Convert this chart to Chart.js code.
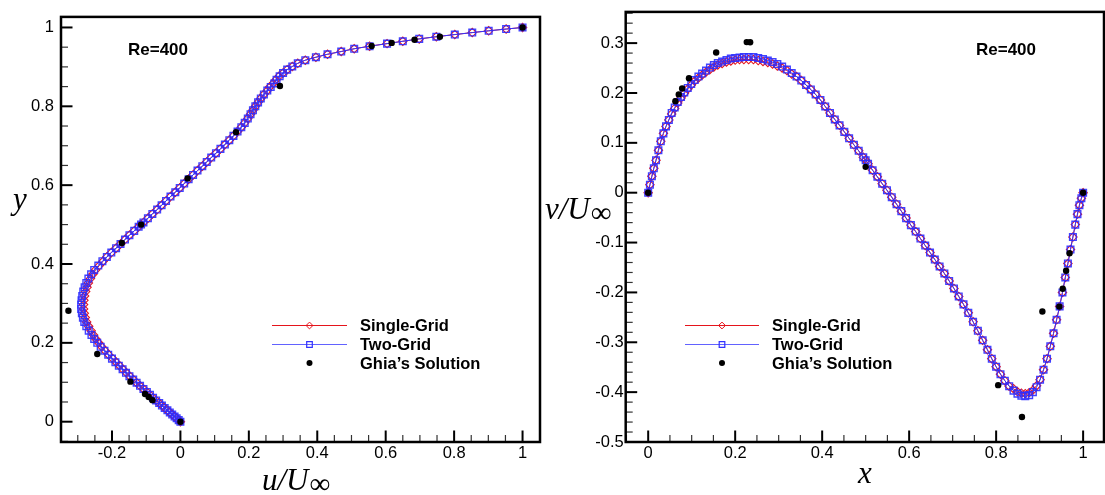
<!DOCTYPE html>
<html>
<head>
<meta charset="utf-8">
<script src="https://cdn.jsdelivr.net/npm/chart.js@4.4.1/dist/chart.umd.min.js"></script>
<style>
  body { margin: 0; background: #fff; }
  .panel { position: absolute; top: 0; height: 495px; }
</style>
</head>
<body>
<div class="panel" style="left:0;width:552px"><canvas id="uchart" width="552" height="495"></canvas></div>
<div class="panel" style="left:530px;width:575px"><canvas id="vchart" width="575" height="495"></canvas></div>
<script>
// grid positions (y for the vertical centerline, x for the horizontal one)
const gridPos = [
  0, 0.004, 0.0085, 0.013, 0.018, 0.0235, 0.029, 0.035, 0.041, 0.0475,
  0.054, 0.061, 0.068, 0.0755, 0.083, 0.091, 0.099, 0.107, 0.1155, 0.124,
  0.133, 0.142, 0.151, 0.16, 0.17, 0.18, 0.19, 0.2, 0.21, 0.22,
  0.231, 0.242, 0.253, 0.264, 0.275, 0.286, 0.297, 0.308, 0.319, 0.33,
  0.341, 0.352, 0.363, 0.374, 0.385, 0.396, 0.407, 0.418, 0.429, 0.44,
  0.451, 0.462, 0.473, 0.484, 0.4945, 0.5, 0.5055, 0.516, 0.527, 0.538,
  0.549, 0.56, 0.571, 0.582, 0.593, 0.604, 0.615, 0.626, 0.637, 0.648,
  0.659, 0.67, 0.681, 0.692, 0.703, 0.714, 0.725, 0.736, 0.747, 0.758,
  0.769, 0.78, 0.79, 0.8, 0.81, 0.82, 0.83, 0.84, 0.849, 0.858,
  0.867, 0.876, 0.8845, 0.893, 0.901, 0.909, 0.917, 0.9245, 0.932, 0.939,
  0.946, 0.9525, 0.959, 0.965, 0.971, 0.9765, 0.982, 0.987, 0.9915, 0.996,
  1
];

// u velocity on the vertical centerline
const uSingle = [
  0, -0.005, -0.011, -0.017, -0.024, -0.031, -0.038, -0.046, -0.054, -0.062,
  -0.071, -0.080, -0.089, -0.098, -0.108, -0.118, -0.128, -0.138, -0.148, -0.158,
  -0.168, -0.178, -0.188, -0.198, -0.210, -0.220, -0.230, -0.239, -0.247, -0.254,
  -0.261, -0.268, -0.274, -0.278, -0.281, -0.283, -0.283, -0.282, -0.280, -0.277,
  -0.273, -0.269, -0.263, -0.256, -0.248, -0.237, -0.226, -0.215, -0.202, -0.188,
  -0.175, -0.162, -0.149, -0.135, -0.122, -0.115, -0.108, -0.095, -0.082, -0.068,
  -0.055, -0.042, -0.029, -0.015, -0.002, 0.011, 0.024, 0.037, 0.050, 0.064,
  0.077, 0.090, 0.104, 0.117, 0.130, 0.143, 0.155, 0.167, 0.178, 0.188,
  0.197, 0.205, 0.212, 0.219, 0.227, 0.235, 0.244, 0.254, 0.261, 0.271,
  0.279, 0.288, 0.300, 0.312, 0.327, 0.343, 0.365, 0.396, 0.430, 0.470,
  0.508, 0.553, 0.604, 0.650, 0.698, 0.748, 0.802, 0.853, 0.901, 0.952,
  1.0
];
const uTwo = [
  0, -0.005, -0.011, -0.017, -0.024, -0.031, -0.038, -0.046, -0.054, -0.062,
  -0.071, -0.080, -0.089, -0.098, -0.108, -0.118, -0.128, -0.138, -0.149, -0.159,
  -0.169, -0.180, -0.190, -0.200, -0.211, -0.222, -0.233, -0.243, -0.252, -0.260,
  -0.268, -0.275, -0.281, -0.285, -0.288, -0.290, -0.290, -0.289, -0.287, -0.284,
  -0.280, -0.275, -0.269, -0.261, -0.252, -0.240, -0.228, -0.215, -0.202, -0.188,
  -0.175, -0.162, -0.149, -0.135, -0.122, -0.115, -0.108, -0.095, -0.082, -0.068,
  -0.055, -0.042, -0.029, -0.015, -0.002, 0.011, 0.024, 0.037, 0.050, 0.064,
  0.077, 0.090, 0.104, 0.117, 0.130, 0.143, 0.155, 0.167, 0.178, 0.188,
  0.197, 0.205, 0.212, 0.219, 0.227, 0.235, 0.244, 0.254, 0.264, 0.274,
  0.281, 0.290, 0.300, 0.312, 0.327, 0.343, 0.365, 0.396, 0.430, 0.470,
  0.508, 0.553, 0.604, 0.650, 0.698, 0.748, 0.802, 0.853, 0.901, 0.952,
  1.0
];

// v velocity on the horizontal centerline
const vSingle = [
  0, 0.016, 0.033, 0.049, 0.065, 0.085, 0.103, 0.119, 0.133, 0.146,
  0.158, 0.169, 0.180, 0.190, 0.199, 0.208, 0.216, 0.224, 0.230, 0.236,
  0.242, 0.247, 0.252, 0.256, 0.259, 0.262, 0.264, 0.266, 0.267, 0.267,
  0.267, 0.267, 0.265, 0.263, 0.261, 0.258, 0.254, 0.250, 0.245, 0.238,
  0.233, 0.225, 0.216, 0.207, 0.197, 0.186, 0.173, 0.160, 0.147, 0.135,
  0.122, 0.109, 0.096, 0.084, 0.071, 0.065, 0.058, 0.045, 0.032, 0.018,
  0.005, -0.009, -0.023, -0.037, -0.051, -0.065, -0.078, -0.092, -0.106, -0.120,
  -0.134, -0.148, -0.162, -0.177, -0.192, -0.208, -0.224, -0.241, -0.259, -0.277,
  -0.296, -0.315, -0.333, -0.349, -0.364, -0.377, -0.388, -0.393, -0.399, -0.402,
  -0.403, -0.401, -0.396, -0.387, -0.375, -0.355, -0.333, -0.308, -0.282, -0.255,
  -0.228, -0.200, -0.170, -0.142, -0.114, -0.089, -0.064, -0.043, -0.025, -0.011,
  0
];
const vTwo = [
  0, 0.016, 0.033, 0.049, 0.065, 0.085, 0.103, 0.119, 0.133, 0.146,
  0.160, 0.171, 0.182, 0.192, 0.201, 0.210, 0.218, 0.226, 0.233, 0.239,
  0.245, 0.251, 0.256, 0.260, 0.263, 0.266, 0.269, 0.270, 0.271, 0.272,
  0.272, 0.272, 0.270, 0.268, 0.265, 0.262, 0.258, 0.253, 0.247, 0.240,
  0.233, 0.225, 0.216, 0.207, 0.197, 0.186, 0.173, 0.160, 0.147, 0.135,
  0.122, 0.109, 0.096, 0.084, 0.071, 0.065, 0.058, 0.045, 0.032, 0.018,
  0.005, -0.009, -0.023, -0.037, -0.051, -0.065, -0.078, -0.092, -0.106, -0.120,
  -0.134, -0.148, -0.162, -0.177, -0.192, -0.208, -0.224, -0.241, -0.259, -0.277,
  -0.296, -0.315, -0.333, -0.349, -0.364, -0.377, -0.388, -0.397, -0.403, -0.407,
  -0.408, -0.406, -0.400, -0.390, -0.375, -0.355, -0.333, -0.308, -0.282, -0.255,
  -0.228, -0.200, -0.170, -0.142, -0.114, -0.089, -0.064, -0.043, -0.025, -0.011,
  0
];

// Ghia et al. reference points
const ghiaY = [1.0, 0.9766, 0.9688, 0.9609, 0.9531, 0.8516, 0.7344, 0.6172, 0.5, 0.4531, 0.2813, 0.1719, 0.1016, 0.0703, 0.0625, 0.0547, 0];
const ghiaU = [1.0, 0.75837, 0.68439, 0.61756, 0.55892, 0.29093, 0.16256, 0.02135, -0.11477, -0.17119, -0.32726, -0.24299, -0.14612, -0.10338, -0.09266, -0.08186, 0];
const ghiaX = [1.0, 0.9688, 0.9609, 0.9531, 0.9453, 0.9063, 0.8594, 0.8047, 0.5, 0.2344, 0.2266, 0.1563, 0.0938, 0.0781, 0.0703, 0.0625, 0];
const ghiaV = [0, -0.12146, -0.15663, -0.19254, -0.22847, -0.23827, -0.44993, -0.38598, 0.05186, 0.30174, 0.30203, 0.28124, 0.22965, 0.20920, 0.19713, 0.18360, 0];

// tick labels
const uTicks = [-0.2, 0, 0.2, 0.4, 0.6, 0.8, 1];
const yTicks = [0, 0.2, 0.4, 0.6, 0.8, 1];
const xTicks = [0, 0.2, 0.4, 0.6, 0.8, 1];
const vTicks = [-0.5, -0.4, -0.3, -0.2, -0.1, 0, 0.1, 0.2, 0.3];

const seriesNames = ['Single-Grid', 'Two-Grid', 'Ghia\u2019s Solution'];
const RED = '#e5141c';
const BLUE = '#3232ff';
const tickFont = { family: '"Liberation Sans", Arial, sans-serif', size: 16.5 };

function pairs(xs, ys) {
  return xs.map((x, i) => ({ x: x, y: ys[i] }));
}

function makeDatasets(single, two, ghia) {
  return [
    { label: seriesNames[0], data: single, showLine: true, borderColor: RED, borderWidth: 1,
      pointStyle: 'rectRot', pointRadius: 4.2, pointBorderColor: RED, pointBorderWidth: 1.1,
      pointBackgroundColor: 'rgba(0,0,0,0)', order: 3 },
    { label: seriesNames[1], data: two, showLine: true, borderColor: BLUE, borderWidth: 1,
      pointStyle: 'rect', pointRadius: 4.7, pointBorderColor: 'rgba(45,45,255,0.9)', pointBorderWidth: 1.4,
      pointBackgroundColor: 'rgba(0,0,0,0)', order: 2 },
    { label: seriesNames[2], data: ghia, showLine: false, pointStyle: 'circle', pointRadius: 3.2,
      pointBackgroundColor: '#000', pointBorderColor: '#000', pointBorderWidth: 0, order: 1 }
  ];
}

function marker(ctx, style, x, y, r, color) {
  ctx.beginPath();
  if (style === 'diamond') {
    ctx.moveTo(x, y - r); ctx.lineTo(x + r, y); ctx.lineTo(x, y + r); ctx.lineTo(x - r, y); ctx.closePath();
    ctx.strokeStyle = color; ctx.lineWidth = 1; ctx.stroke();
  } else if (style === 'square') {
    ctx.rect(x - r, y - r, 2 * r, 2 * r);
    ctx.strokeStyle = color; ctx.lineWidth = 1.2; ctx.stroke();
  } else {
    ctx.arc(x, y, r, 0, Math.PI * 2);
    ctx.fillStyle = color; ctx.fill();
  }
}

function mathLabel(ctx, main, sub, x, base) {
  ctx.font = 'italic 31px "Liberation Serif", serif';
  ctx.fillStyle = '#000';
  ctx.textAlign = 'left';
  ctx.textBaseline = 'alphabetic';
  ctx.fillText(main, x, base);
  if (sub) {
    const w = ctx.measureText(main).width;
    ctx.font = '29px "Liberation Serif", serif';
    ctx.fillText(sub, x + w + 1, base + 3);
  }
}

// frame, inward ticks, legend and labels
const decor = {
  id: 'decor',
  afterDraw(chart, args, o) {
    const ctx = chart.ctx;
    const a = chart.chartArea;
    const xs = chart.scales.x, ys = chart.scales.y;
    ctx.save();

    function tickRun(scale, major, step, horizontal) {
      const lo = scale.min, hi = scale.max;
      for (let k = Math.ceil(lo / step - 1e-9); k * step <= hi + 1e-9; k++) {
        const v = k * step;
        const isMajor = major.some(m => Math.abs(m - v) < 1e-6);
        const p = scale.getPixelForValue(v);
        const len = isMajor ? 11.5 : 7;
        ctx.beginPath();
        ctx.lineWidth = isMajor ? 2 : 1.2;
        ctx.strokeStyle = isMajor ? '#000' : '#333';
        if (horizontal) { ctx.moveTo(p, a.bottom); ctx.lineTo(p, a.bottom - len); }
        else { ctx.moveTo(a.left, p); ctx.lineTo(a.left + len, p); }
        ctx.stroke();
      }
    }
    tickRun(xs, o.xMajor, o.xMinor, true);
    tickRun(ys, o.yMajor, o.yMinor, false);

    ctx.lineWidth = 2.5;
    ctx.strokeStyle = '#000';
    ctx.strokeRect(a.left, a.top, a.right - a.left, a.bottom - a.top);

    // Re label
    ctx.fillStyle = '#000';
    ctx.font = 'bold 17px "Liberation Sans", Arial, sans-serif';
    ctx.textAlign = 'left';
    ctx.textBaseline = 'alphabetic';
    ctx.fillText('Re=400', o.reX, 55);

    // legend
    const L = o.legend;
    const rows = [L.y0, L.y0 + 19, L.y0 + 38];
    ctx.lineWidth = 1;
    ctx.strokeStyle = RED;
    ctx.beginPath(); ctx.moveTo(L.x0, rows[0] + 0.5); ctx.lineTo(L.x1, rows[0] + 0.5); ctx.stroke();
    marker(ctx, 'diamond', (L.x0 + L.x1) / 2, rows[0] + 0.5, 3.4, RED);
    ctx.strokeStyle = 'rgba(70,70,255,0.85)';
    ctx.beginPath(); ctx.moveTo(L.x0, rows[1] + 0.5); ctx.lineTo(L.x1, rows[1] + 0.5); ctx.stroke();
    marker(ctx, 'square', (L.x0 + L.x1) / 2, rows[1] + 0.5, 2.8, BLUE);
    marker(ctx, 'dot', (L.x0 + L.x1) / 2, rows[2], 3, '#000');
    ctx.fillStyle = '#000';
    ctx.font = 'bold 16.5px "Liberation Sans", Arial, sans-serif';
    seriesNames.forEach((n, i) => ctx.fillText(n, L.tx, rows[i] + 6));

    // axis titles
    mathLabel(ctx, o.xTitle.main, o.xTitle.sub, o.xTitle.x, o.xTitle.base);
    mathLabel(ctx, o.yTitle.main, o.yTitle.sub, o.yTitle.x, o.yTitle.base);
    ctx.restore();
  }
};

function axis(min, max, ticks, size, horizontal, pad) {
  return {
    type: 'linear',
    min: min,
    max: max,
    grid: { display: false, drawTicks: false },
    border: { display: false },
    ticks: { font: tickFont, color: '#000', padding: pad, callback: v => String(v) },
    afterBuildTicks: scale => { scale.ticks = ticks.map(v => ({ value: v })); },
    afterFit: scale => { if (horizontal) scale.height = size; else scale.width = size; }
  };
}

function baseOptions(padRight, scales, decorOpts) {
  return {
    responsive: false,
    animation: false,
    devicePixelRatio: 1,
    events: [],
    layout: { autoPadding: false, padding: { left: 0, top: 11, right: padRight, bottom: 0 } },
    plugins: { legend: { display: false }, tooltip: { enabled: false }, decor: decorOpts },
    scales: scales
  };
}

// left: u along the vertical centerline
new Chart(document.getElementById('uchart'), {
  type: 'scatter',
  data: { datasets: makeDatasets(pairs(uSingle, gridPos), pairs(uTwo, gridPos), pairs(ghiaU, ghiaY)) },
  options: baseOptions(12, {
    x: axis(-0.349, 1.051, uTicks, 53, true, 2),
    y: axis(-0.0515, 1.0268, yTicks, 61, false, 7)
  }, {
    xMajor: uTicks, yMajor: yTicks, xMinor: 0.05, yMinor: 0.05,
    reX: 128,
    legend: { x0: 272, x1: 347, y0: 325, tx: 360 },
    xTitle: { main: 'u/U', sub: '\u221E', x: 262, base: 490 },
    yTitle: { main: 'y', sub: '', x: 13, base: 209 }
  }),
  plugins: [decor]
});

// right: v along the horizontal centerline
new Chart(document.getElementById('vchart'), {
  type: 'scatter',
  data: { datasets: makeDatasets(pairs(gridPos, vSingle), pairs(gridPos, vTwo), pairs(ghiaX, ghiaV)) },
  options: baseOptions(1, {
    x: axis(-0.0517, 1.048, xTicks, 53, true, 2),
    y: axis(-0.5, 0.3626, vTicks, 95.7, false, 2)
  }, {
    xMajor: xTicks, yMajor: vTicks, xMinor: 0.05, yMinor: 0.02,
    reX: 446,
    legend: { x0: 155, x1: 229, y0: 325, tx: 242 },
    xTitle: { main: 'x', sub: '', x: 328, base: 483 },
    yTitle: { main: 'v/U', sub: '\u221E', x: 15, base: 219 }
  }),
  plugins: [decor]
});
</script>
</body>
</html>
